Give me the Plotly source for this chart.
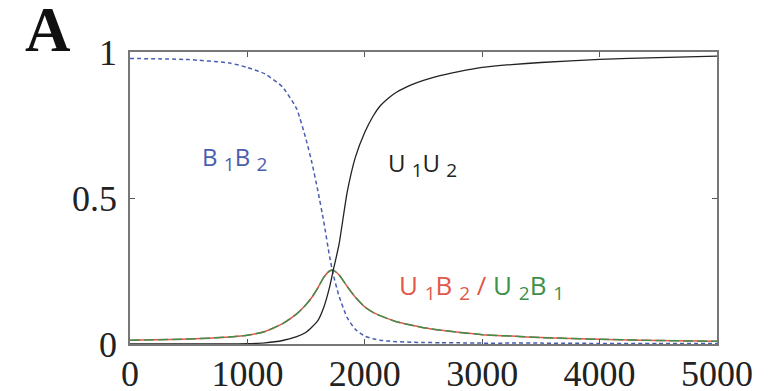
import plotly.graph_objects as go

t = [0, 500, 850, 1000, 1150, 1300, 1420, 1500, 1550, 1600, 1650, 1700, 1730,
     1780, 1850, 1920, 2000, 2070, 2130, 2200, 2270, 2400, 2500, 2650, 2800,
     3000, 3250, 3500, 4000, 4500, 5000]

b1b2 = [0.978, 0.974, 0.962, 0.947, 0.925, 0.88, 0.805, 0.70, 0.62, 0.525, 0.42,
        0.30, 0.24, 0.165, 0.09, 0.05, 0.027, 0.018, 0.013, 0.010, 0.008, 0.006,
        0.005, 0.0045, 0.004, 0.003, 0.003, 0.003, 0.002, 0.002, 0.002]

u1u2 = [0.0, 0.0, 0.0, 0.001, 0.004, 0.012, 0.025, 0.04, 0.058, 0.08, 0.125,
        0.195, 0.25, 0.34, 0.52, 0.64, 0.725, 0.78, 0.815, 0.842, 0.862, 0.888,
        0.903, 0.92, 0.933, 0.947, 0.957, 0.964, 0.975, 0.981, 0.986]

u1b2 = [0.013, 0.017, 0.024, 0.03, 0.043, 0.07, 0.103, 0.135, 0.16, 0.192,
        0.228, 0.25, 0.253, 0.237, 0.197, 0.16, 0.127, 0.108, 0.097, 0.086,
        0.076, 0.064, 0.056, 0.047, 0.04, 0.032, 0.027, 0.022, 0.016, 0.012, 0.009]

x_ticks = [0, 1000, 2000, 3000, 4000, 5000]
y_ticks = [0, 0.5, 1]
y_tick_text = ["0", "0.5", "1"]

BLUE = "#4a5db0"
RED = "#e2574c"
GREEN = "#3e8f4c"
BLACK = "#222222"

fig = go.Figure()
fig.add_trace(go.Scatter(x=t, y=u1b2, mode="lines",
                         line=dict(color=RED, width=1.5, shape="spline", smoothing=0.5)))
fig.add_trace(go.Scatter(x=t, y=u1b2, mode="lines",
                         line=dict(color=GREEN, width=1.5, dash="10px,4px", shape="spline", smoothing=0.5)))
fig.add_trace(go.Scatter(x=t, y=b1b2, mode="lines",
                         line=dict(color=BLUE, width=1.5, dash="4px,3px", shape="spline", smoothing=0.5)))
fig.add_trace(go.Scatter(x=t, y=u1u2, mode="lines",
                         line=dict(color=BLACK, width=1.3, shape="spline", smoothing=0.5)))

lab_font = dict(family="Open Sans, Noto Sans, sans-serif", size=24)


def sub(d):
    return "<sub><span style='font-size:19px'>%s</span></sub>" % d


fig.add_annotation(x=894, y=0.635, xref="x", yref="y", showarrow=False,
                   text="B %sB %s" % (sub("1"), sub("2")), font=dict(color=BLUE, **lab_font))
fig.add_annotation(x=2490, y=0.615, xref="x", yref="y", showarrow=False,
                   text="U %sU %s" % (sub("1"), sub("2")), font=dict(color=BLACK, **lab_font))
fig.add_annotation(x=2990, y=0.197, xref="x", yref="y", showarrow=False,
                   text=("<span style='color:%s'>U %sB %s /</span> "
                         "<span style='color:%s'>U %sB %s</span>")
                   % (RED, sub("1"), sub("2"), GREEN, sub("2"), sub("1")),
                   font=dict(color=RED, family="Open Sans, Noto Sans, sans-serif", size=26))
fig.add_annotation(x=-0.14, y=1.077, xref="paper", yref="paper", showarrow=False,
                   xanchor="center", yanchor="middle",
                   text="<b>A</b>", font=dict(family="Liberation Serif, serif", size=63, color="#111"))

axis_common = dict(showgrid=False, zeroline=False, showline=True, linecolor="#777",
                   linewidth=1.5, mirror="ticks", ticks="inside", ticklen=5,
                   tickcolor="#555", tickwidth=1, automargin=False,
                   tickfont=dict(family="Liberation Serif, Times New Roman, serif", size=36, color="#222"))

fig.update_xaxes(range=[0, 5000], tickvals=x_ticks, ticktext=[str(v) for v in x_ticks],
                 ticklabelstandoff=-3, **axis_common)
fig.update_yaxes(range=[0, 1], tickvals=y_ticks, ticktext=y_tick_text,
                 ticklabelstandoff=4, **axis_common)

fig.update_layout(width=776, height=391, margin=dict(l=130, r=59, t=52, b=47),
                  plot_bgcolor="white", paper_bgcolor="white", showlegend=False)

fig.write_html("out.html")
